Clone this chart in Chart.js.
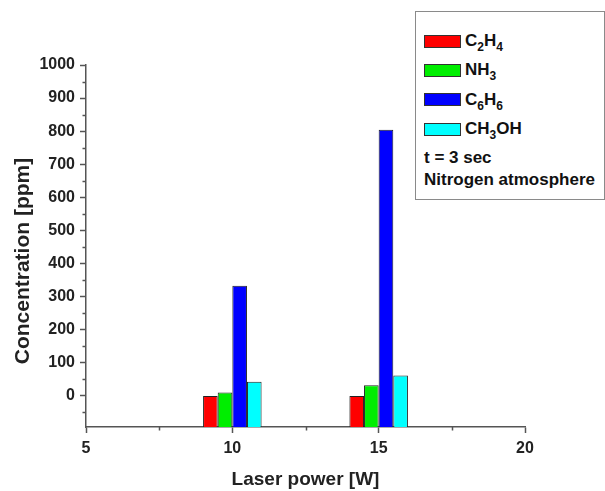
<!DOCTYPE html>
<html><head><meta charset="utf-8">
<script src="https://cdn.jsdelivr.net/npm/chart.js@4/dist/chart.umd.min.js"></script>
<style>
html,body{margin:0;padding:0;background:#fff;}
#wrap{position:relative;width:605px;height:491px;overflow:hidden;}
#c{position:absolute;left:0;top:0;}
#legend{position:absolute;left:415px;top:11px;width:190px;height:189px;border:1px solid #8a8a8a;box-sizing:border-box;background:#fff;font-family:"Liberation Sans",Arial,sans-serif;font-weight:bold;font-size:17px;color:#111;}
.row{position:absolute;left:8px;height:20px;display:flex;align-items:center;white-space:nowrap;}
.sw{width:37px;height:13px;box-sizing:border-box;border:1px solid #333;margin-right:4px;}
sub{font-size:12px;vertical-align:-5px;line-height:0;}
</style></head>
<body><div id="wrap"><canvas id="c" width="605" height="491"></canvas><div id="legend"></div></div>
<script>
// ---- data ----
const laserPower = [10, 15];
const c2h4 = [0, 0];
const nh3 = [10, 32];
const c6h6 = [333, 804];
const ch3oh = [43, 62];
const seriesNames = ['C2H4', 'NH3', 'C6H6', 'CH3OH'];
const noteLines = ['t = 3 sec', 'Nitrogen atmosphere'];
const xTicks = [5, 10, 15, 20];
const xMinorTicks = [7.5, 12.5, 17.5];
const yTicks = [0, 100, 200, 300, 400, 500, 600, 700, 800, 900, 1000];
const yMinorTicks = [-50, 50, 150, 250, 350, 450, 550, 650, 750, 850, 950];
const xTitle = 'Laser power [W]';
const yTitle = 'Concentration [ppm]';
const xRange = [5, 20];
const yRange = [-94, 1000];

// ---- styles ----
const colors = ['#ff0000', '#00ee00', '#0000ff', '#00ffff'];
const axisColor = '#555';
const textColor = '#222';
const fontFamily = '"Liberation Sans", Arial, sans-serif';

Chart.defaults.font.family = fontFamily;
Chart.defaults.color = textColor;

const seriesValues = [c2h4, nh3, c6h6, ch3oh];
const datasets = seriesValues.map((vals, i) => ({
  label: seriesNames[i],
  data: vals.map((v, j) => ({x: laserPower[j], y: v})),
  backgroundColor: colors[i],
  borderColor: '#222',
  borderWidth: 1,
  base: yRange[0],
  categoryPercentage: 0.4,
  barPercentage: 1.0
}));

const minorTickPlugin = {
  id: 'minorTicks',
  afterDraw(chart) {
    const {ctx, scales: {x, y}, chartArea} = chart;
    ctx.save();
    ctx.strokeStyle = axisColor;
    ctx.lineWidth = 1.5;
    ctx.beginPath();
    yMinorTicks.forEach(v => {
      const p = Math.round(y.getPixelForValue(v)) + 0.5;
      ctx.moveTo(chartArea.left - 3.5, p);
      ctx.lineTo(chartArea.left, p);
    });
    xMinorTicks.forEach(v => {
      const p = Math.round(x.getPixelForValue(v)) + 0.5;
      ctx.moveTo(p, chartArea.bottom);
      ctx.lineTo(p, chartArea.bottom + 3.5);
    });
    ctx.stroke();
    // y-axis title (placed slightly below the axis centre, as in the original)
    const cy = (chartArea.top + chartArea.bottom) / 2 + 15;
    ctx.translate(23, cy);
    ctx.rotate(-Math.PI / 2);
    ctx.fillStyle = textColor;
    ctx.font = 'bold 21px ' + fontFamily;
    ctx.textAlign = 'center';
    ctx.textBaseline = 'middle';
    ctx.fillText(yTitle, 0, 0);
    ctx.restore();
  }
};

const chart = new Chart(document.getElementById('c'), {
  type: 'bar',
  data: {datasets},
  options: {
    responsive: false,
    animation: false,
    layout: {padding: {left: 0, top: 65, right: 80, bottom: 0}},
    plugins: {legend: {display: false}, tooltip: {enabled: false}},
    scales: {
      x: {
        type: 'linear',
        offset: false,
        min: xRange[0], max: xRange[1],
        z: 1,
        afterBuildTicks: s => { s.ticks = xTicks.map(v => ({value: v})); },
        afterFit: s => { s.height = 64; },
        ticks: {font: {size: 16, weight: 'bold'}, color: textColor, padding: 6, maxRotation: 0, callback: v => String(v)},
        grid: {offset: false, drawOnChartArea: false, drawTicks: true, tickLength: 6, tickColor: axisColor, tickWidth: 1.5},
        border: {display: true, color: axisColor, width: 1.5},
        title: {display: true, text: xTitle, font: {size: 19, weight: 'bold'}, color: textColor, padding: {top: 4, bottom: 0}}
      },
      y: {
        type: 'linear',
        min: yRange[0], max: yRange[1],
        z: 1,
        afterBuildTicks: s => { s.ticks = yTicks.map(v => ({value: v})); },
        afterFit: s => { s.width = 86; },
        ticks: {font: {size: 16, weight: 'bold'}, color: textColor, padding: 5, callback: v => String(v)},
        grid: {drawOnChartArea: false, drawTicks: true, tickLength: 6, tickColor: axisColor, tickWidth: 1.5},
        border: {display: true, color: axisColor, width: 1.5},
        title: {display: false, text: yTitle}
      }
    }
  },
  plugins: [minorTickPlugin]
});

// ---- legend (HTML, built from the chart's datasets) ----
function fmt(s) { return s.replace(/(\d+)/g, '<sub>$1</sub>'); }
const legend = document.getElementById('legend');
const rowTops = [19, 48, 77.5, 107];
chart.data.datasets.forEach((ds, i) => {
  const row = document.createElement('div');
  row.className = 'row';
  row.style.top = rowTops[i] + 'px';
  row.innerHTML = '<span class="sw" style="background:' + ds.backgroundColor + '"></span><span>' + fmt(ds.label) + '</span>';
  legend.appendChild(row);
});
const noteTops = [136, 158];
noteLines.forEach((t, i) => {
  const row = document.createElement('div');
  row.className = 'row';
  row.style.top = noteTops[i] + 'px';
  row.textContent = t;
  legend.appendChild(row);
});
</script>
</body></html>
